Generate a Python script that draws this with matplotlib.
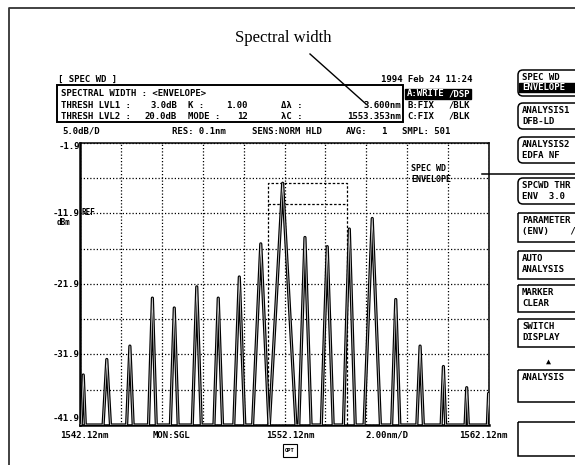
import matplotlib
matplotlib.use("Agg")
import matplotlib.pyplot as plt
from matplotlib.patches import Rectangle, FancyBboxPatch

# screen settings
wl_start, wl_stop = 1542.12, 1562.12
ref_top, db_per_div = -1.9, 5.0
y_labels = ["-1.9", "-11.9", "-21.9", "-31.9", "-41.9"]

# peaks (nm, dBm, half width at the floor in nm)
peak_wl = [1542.28, 1543.43, 1544.56, 1545.66, 1546.73, 1547.83, 1548.88,
           1549.91, 1550.96, 1552.03, 1553.12, 1554.21, 1555.29, 1556.41,
           1557.56, 1558.75, 1559.89, 1561.03, 1562.10]
peak_dbm = [-34.8, -32.6, -30.7, -23.9, -25.3, -22.3, -23.9,
            -20.9, -16.2, -7.6, -15.3, -16.6, -14.1, -12.6,
            -24.1, -30.7, -33.6, -36.6, -37.4]
peak_halfwidth = [0.10, 0.18, 0.16, 0.19, 0.19, 0.22, 0.21,
                  0.27, 0.40, 0.65, 0.30, 0.29, 0.29, 0.40,
                  0.20, 0.16, 0.11, 0.08, 0.06]

# envelope markers (dashed box)
env_left, env_right = 1551.33, 1555.18
env_peak, env_thresh = -7.6, -10.6

soft_keys = [("SPEC WD", "ENVELOPE"), ("ANALYSIS1", "DFB-LD"),
             ("ANALYSIS2", "EDFA NF"), ("SPCWD THR", "ENV  3.0"),
             ("PARAMETER", "(ENV)    /"), ("AUTO", "ANALYSIS"),
             ("MARKER", "CLEAR"), ("SWITCH", "DISPLAY"),
             ("ANALYSIS", ""), ("", "")]
key_tops = [70, 103, 137, 178, 213, 251, 285, 319, 370, 422]
key_heights = [26, 26, 26, 26, 29, 28, 27, 28, 32, 34]

W, H = 575, 465
fig = plt.figure(figsize=(W / 100, H / 100), dpi=100)
fig.patch.set_facecolor("white")

ov = fig.add_axes([0, 0, 1, 1])
ov.set_xlim(0, W)
ov.set_ylim(H, 0)
ov.axis("off")

mono = "DejaVu Sans Mono"


def t(x, y, s, ha="left", size=6.5, color="black", weight="bold", **kw):
    ov.text(x, y, s, ha=ha, va="center", fontsize=size, family=mono,
            color=color, fontweight=weight, **kw)


# outer frame of the page
ov.plot([9, 9, W], [H, 8, 8], color="#333333", lw=1.3)

# caption and pointer
ov.text(283, 38, "Spectral width", ha="center", va="center",
        fontsize=12, family="Liberation Serif")
ov.plot([310, 366], [54, 104], color="black", lw=1.0)

# header
t(58, 79, "[ SPEC WD ]")
t(472, 79, "1994 Feb 24 11:24", ha="right")
ov.add_patch(Rectangle((57, 85), 346, 37, fill=False, ec="black", lw=1.4))
t(61, 94, "SPECTRAL WIDTH : <ENVELOPE>")
t(61, 105, "THRESH LVL1 :")
t(177, 105, "3.0dB", ha="right")
t(188, 105, "K :")
t(248, 105, "1.00", ha="right")
t(281, 105, "Δλ :")
t(401, 105, "3.600nm", ha="right")
t(61, 116, "THRESH LVL2 :")
t(177, 116, "20.0dB", ha="right")
t(188, 116, "MODE :")
t(248, 116, "12", ha="right")
t(281, 116, "λC :")
t(401, 116, "1553.353nm", ha="right")

ov.add_patch(Rectangle((405, 89), 66, 10, color="black"))
t(407, 94, "A:WRITE", color="white")
t(470, 94, "/DSP", ha="right", color="white")
t(407, 105, "B:FIX")
t(470, 105, "/BLK", ha="right")
t(407, 116, "C:FIX")
t(470, 116, "/BLK", ha="right")

t(62, 131, "5.0dB/D")
t(172, 131, "RES: 0.1nm")
t(252, 131, "SENS:NORM HLD")
t(346, 131, "AVG:")
t(387, 131, "1", ha="right")
t(402, 131, "SMPL: 501")

# trace axes
ax = fig.add_axes([80 / W, 1 - 425 / H, 409 / W, 282 / H])
ax.set_facecolor("none")
floor = ref_top - 8 * db_per_div
ax.set_xlim(wl_start, wl_stop)
ax.set_ylim(floor, ref_top)
ax.set_xticks([wl_start + 2 * i for i in range(11)])
ax.set_yticks([floor + db_per_div * i for i in range(9)])
ax.tick_params(length=0, labelbottom=False, labelleft=False)
ax.grid(True, color="black", lw=0.9, ls=(0, (1, 1.6)))
for side in ["left", "bottom"]:
    ax.spines[side].set_linewidth(1.8)
for side in ["top", "right"]:
    ax.spines[side].set_linewidth(1.1)

xs, ys = [wl_start], [floor]
for c, p, w in zip(peak_wl, peak_dbm, peak_halfwidth):
    xs += [c - w, c, c + w]
    ys += [floor, p, floor]
xs.append(wl_stop)
ys.append(floor)
ax.plot(xs, ys, color="black", lw=2.3, clip_on=True, zorder=3)
ax.plot(xs, ys, color="#cccccc", lw=0.6, clip_on=True, zorder=4)

dash = dict(color="black", lw=0.9, ls=(0, (2, 1.5)), zorder=2)
ax.plot([env_left, env_left, env_right, env_right],
        [floor, env_peak, env_peak, floor], **dash)
ax.plot([env_left, env_right - 0.1], [env_thresh, env_thresh], **dash)

# level labels
for i, lab in enumerate(y_labels):
    y = 143 + i * 70.5
    t(80, min(max(y, 146), 418), lab, ha="right")
t(81, 212, "REF", size=5.5)
t(57, 222, "dBm", size=5.5)

t(60, 435, "1542.12nm")
t(153, 435, "MON:SGL")
t(290, 435, "1552.12nm", ha="center")
t(365, 435, "2.00nm/D")
t(508, 435, "1562.12nm", ha="right")
ov.add_patch(Rectangle((283, 444), 14, 13, fill=False, ec="black", lw=0.8))
t(290, 450.5, "OPT", ha="center", size=4)

t(411, 168, "SPEC WD", size=6)
t(411, 179, "ENVELOPE", size=6)
ov.plot([482, W], [174, 174], color="black", lw=1.1)

# soft keys at the right
for i, (top, h, (l1, l2)) in enumerate(zip(key_tops, key_heights, soft_keys)):
    if i < 4:
        box = FancyBboxPatch((518, top), 80, h, boxstyle="round,pad=0,rounding_size=5",
                             fill=False, ec="black", lw=1.1)
    else:
        box = Rectangle((518, top), 80, h, fill=False, ec="black", lw=1.1)
    ov.add_patch(box)
    if l1:
        t(522, top + 7, l1, size=6.5)
    if l2:
        if i == 0:
            ov.add_patch(Rectangle((519, top + 13), 60, 9, color="black"))
            t(522, top + 17.5, l2, size=6.5, color="white")
        else:
            t(522, top + 18, l2, size=6.5)
t(548, 361, "▲", ha="center", size=6, weight="normal")

fig.savefig("out.png", dpi=100)
